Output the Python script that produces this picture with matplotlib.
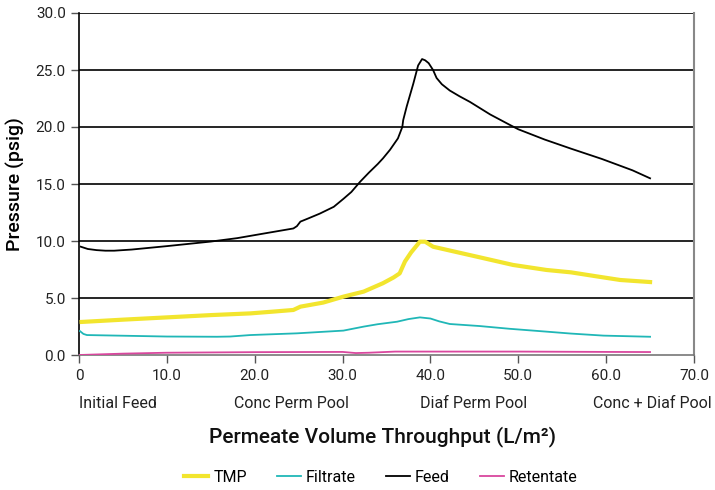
import matplotlib
matplotlib.use("Agg")
import matplotlib.pyplot as plt

plt.rcParams['font.family'] = ['Roboto', 'DejaVu Sans']

feed_x = [0.2, 1, 2, 3, 4, 6, 10, 15, 18, 21, 24.4, 24.8, 25.2, 26, 27.4, 29, 30.1, 31, 32, 33, 34, 34.6,
          35.4, 36.3, 36.8, 36.9, 37.3, 38.05, 38.6, 39.05, 39.4, 39.8, 40.3, 40.7, 41.3, 42.2, 43.3, 44.5,
          46.8, 49, 50, 53, 56, 59.5, 63, 65]
feed_y = [9.5, 9.3, 9.2, 9.15, 9.15, 9.25, 9.55, 9.95, 10.25, 10.65, 11.1, 11.3, 11.7, 11.95, 12.4, 13.0,
          13.7, 14.3, 15.2, 16.0, 16.75, 17.25, 18.0, 19.0, 20.0, 20.6, 21.8, 23.8, 25.4, 25.96, 25.85, 25.6,
          25.0, 24.3, 23.75, 23.2, 22.7, 22.2, 21.1, 20.2, 19.8, 18.9, 18.1, 17.2, 16.2, 15.5]

tmp_x = [0.3, 5, 10, 15, 19.5, 22, 24.4, 25.2, 26, 27.8, 30.1, 32.4, 34.6, 35.8, 36.5, 37.1, 37.8, 38.8,
         39.4, 40.3, 42, 45.6, 49.4, 53.2, 56, 58.9, 61.6, 65]
tmp_y = [2.9, 3.1, 3.3, 3.5, 3.65, 3.8, 3.95, 4.24, 4.35, 4.6, 5.12, 5.56, 6.3, 6.8, 7.16, 8.2, 9.0, 9.94,
         9.94, 9.5, 9.2, 8.57, 7.9, 7.46, 7.25, 6.9, 6.58, 6.4]

filt_x = [0.1, 0.5, 0.9, 3, 10, 15.7, 17.2, 19.5, 24.8, 30.1, 32.4, 34, 36.2, 37.5, 38.8, 40, 41, 42.2,
          45.6, 49, 53.2, 56, 59.7, 65]
filt_y = [2.1, 1.85, 1.75, 1.72, 1.62, 1.6, 1.62, 1.75, 1.9, 2.14, 2.49, 2.7, 2.92, 3.15, 3.3, 3.2, 2.95,
          2.72, 2.54, 2.3, 2.05, 1.88, 1.7, 1.6]

ret_x = [0, 5, 10, 20, 30, 31.5, 33, 36, 40, 50, 60, 65]
ret_y = [0.0, 0.12, 0.2, 0.25, 0.27, 0.17, 0.2, 0.3, 0.3, 0.3, 0.27, 0.26]

x_ticks = [0, 10, 20, 30, 40, 50, 60, 70]
x_tick_labels = ["0", "10.0", "20.0", "30.0", "40.0", "50.0", "60.0", "70.0"]
y_ticks = [0, 5, 10, 15, 20, 25, 30]
y_tick_labels = ["0.0", "5.0", "10.0", "15.0", "20.0", "25.0", "30.0"]
stage_labels = ["Initial Feed", "Conc Perm Pool", "Diaf Perm Pool", "Conc + Diaf Pool"]

fig = plt.figure(figsize=(7.15, 4.9), dpi=100)
ax = fig.add_axes([79/715, 1-355/490, (694-79)/715, (355-13)/490])

for yv in y_ticks[1:]:
    ax.axhline(yv, color='black', lw=1.2, zorder=1)

ax.plot(tmp_x, tmp_y, color='#F2E52E', lw=3, label='TMP', zorder=3)
ax.plot(filt_x, filt_y, color='#20B7B7', lw=1.3, label='Filtrate', zorder=3)
ax.plot(feed_x, feed_y, color='black', lw=1.3, label='Feed', zorder=3)
ax.plot(ret_x, ret_y, color='#D9479E', lw=1.3, label='Retentate', zorder=3)

ax.set_xlim(0, 70)
ax.set_ylim(0, 30)
ax.set_xticks(x_ticks)
ax.set_xticklabels(x_tick_labels)
ax.set_yticks(y_ticks)
ax.set_yticklabels(y_tick_labels)
ax.tick_params(axis='both', labelsize=11, length=6, width=1, color='#555555', labelcolor='#222222')
ax.tick_params(axis='x', pad=4)
ax.spines['top'].set_visible(False)
ax.spines['left'].set_color('black')
ax.spines['left'].set_linewidth(1.2)
ax.spines['bottom'].set_color('#777777')
ax.spines['bottom'].set_linewidth(1.2)
ax.spines['right'].set_color('#888888')
ax.spines['right'].set_linewidth(1.5)

ax.set_ylabel('Pressure (psig)', fontsize=14, fontweight='medium', labelpad=8)

stage_px = [118, 291, 474, 652]
for lab, px in zip(stage_labels, stage_px):
    fig.text(px/715, 1-403/490, lab, ha='center', va='center', fontsize=11.5, color='#222222')

fig.text(383/715, 1-437/490, 'Permeate Volume Throughput (L/m²)', ha='center', va='center',
         fontsize=15, fontweight='medium', color='#111111')

leg = fig.legend(loc='center', bbox_to_anchor=(381/715, 1-477/490), ncol=4, frameon=False,
                 fontsize=11.5, handlelength=1.5, handletextpad=0.3, columnspacing=1.9)

fig.savefig('out.png', dpi=100)
